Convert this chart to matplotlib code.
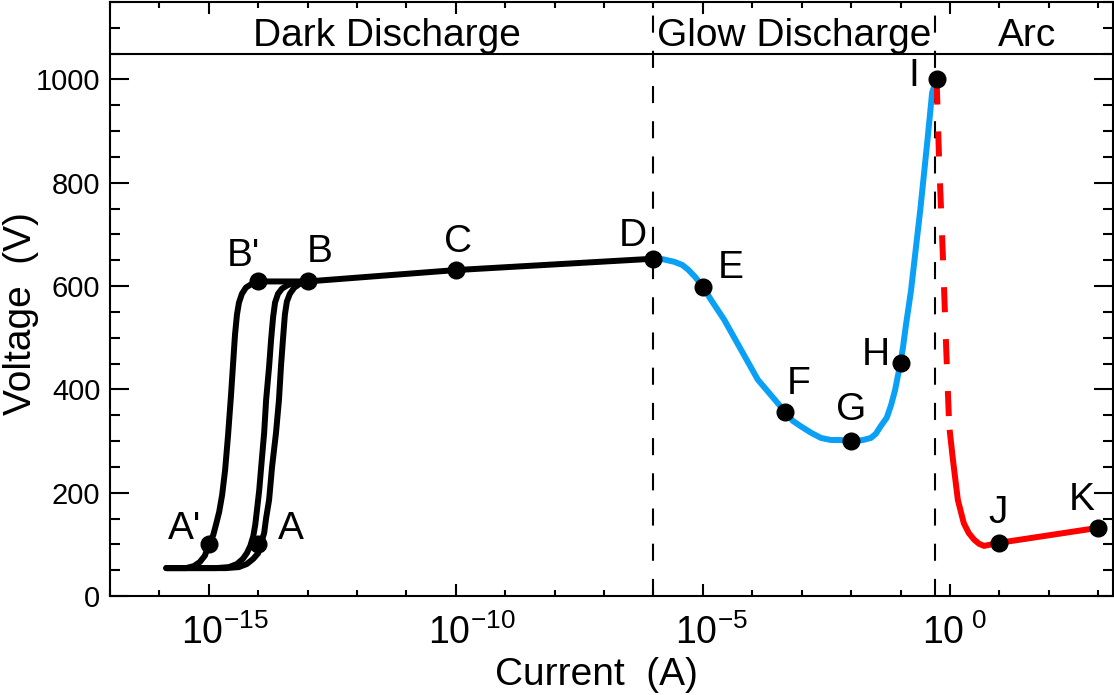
import numpy as np
import matplotlib.pyplot as plt
from matplotlib.ticker import FixedLocator, MultipleLocator, NullFormatter
from matplotlib.transforms import ScaledTranslation

plt.rcParams['font.family'] = ['Liberation Sans', 'DejaVu Sans']
plt.rcParams['mathtext.fontset'] = 'custom'
plt.rcParams['mathtext.rm'] = 'Liberation Sans'
plt.rcParams['mathtext.it'] = 'Liberation Sans'

# dark discharge: three onset curves (log10 current, voltage)
dark1_logi = [-15.86, -15.46, -15.30, -15.18, -15.08, -15.0, -14.91, -14.85, -14.79,
              -14.73, -14.67, -14.61, -14.55, -14.51, -14.47, -14.43, -14.39, -14.33,
              -14.25, -14.12, -14.0]
dark1_v = [54, 54, 58, 66, 78, 100, 118, 140, 163, 196, 244, 312, 390, 448, 506, 545,
           568, 585, 597, 605, 609]
dark2_logi = [-15.86, -14.85, -14.59, -14.43, -14.31, -14.23, -14.16, -14.10, -14.06,
              -14.02, -13.98, -13.94, -13.88, -13.84, -13.78, -13.74, -13.70, -13.66,
              -13.60, -13.52, -13.42, -13.30]
dark2_v = [54, 54, 56, 62, 72, 83, 97, 116, 138, 171, 205, 250, 316, 380, 444, 496,
           539, 568, 585, 595, 601, 606]
dark3_logi = [-15.86, -14.65, -14.39, -14.23, -14.10, -14.0, -13.96, -13.92, -13.88,
              -13.84, -13.78, -13.72, -13.64, -13.58, -13.54, -13.50, -13.46, -13.42,
              -13.36, -13.27, -13.15, -13.0]
dark3_v = [54, 54, 56, 62, 72, 83, 97, 109, 122, 151, 186, 250, 316, 380, 444, 496,
           545, 570, 585, 597, 605, 609]
# plateau B' -> B -> C -> D
plateau_logi = [-14.0, -13.0, -10.0, -6.0]
plateau_v = [609, 609, 631, 653]

# glow discharge (D -> I)
glow_logi = [-6.0, -5.81, -5.58, -5.42, -5.30, -5.16, -5.0, -4.84, -4.57, -4.23, -3.89,
             -3.34, -3.18, -3.01, -2.81, -2.61, -2.41, -2.21, -2.0, -1.76, -1.60, -1.50,
             -1.40, -1.28, -1.19, -1.11, -1.05, -1.0, -0.95, -0.89, -0.79, -0.70, -0.60,
             -0.46, -0.36, -0.27]
glow_v = [653, 652, 647, 641, 632, 618, 599, 574, 535, 477, 419,
          357, 339, 328, 316, 306, 302, 302, 300, 302, 306, 314,
          329, 345, 370, 399, 428, 452, 482, 525, 590, 665, 748,
          878, 975, 1000]

# arc: dashed transition from I, then solid to J and K
arc_dash_logi = [-0.27, -0.22, -0.14, -0.08, -0.02, 0.0]
arc_dash_v = [1000, 845, 651, 490, 341, 316]
arc_logi = [0.0, 0.06, 0.16, 0.28, 0.38, 0.49, 0.59, 0.69, 1.0, 3.0]
arc_v = [316, 264, 186, 141, 122, 109, 101, 97, 103, 132]

# labelled points
point_names = ["A'", "A", "B'", "B", "C", "D", "E", "F", "G", "H", "I", "J", "K"]
point_logi = [-15.0, -14.0, -14.0, -13.0, -10.0, -6.0, -5.0, -3.34, -2.0, -1.0, -0.27, 1.0, 3.0]
point_v = [100, 100, 609, 609, 631, 653, 599, 357, 300, 452, 1000, 103, 132]
label_offsets = [(-24, 15), (33, 15), (-15, 25), (12, 29), (2, 28), (-21, 23), (28, 19),
                 (14, 28), (0, 31), (-25, 8), (-23, 3), (-1, 30), (-16, 28)]

# regions
region_names = ["Dark Discharge", "Glow Discharge", "Arc"]
region_centers = [-11.39, -3.15, 1.56]
boundary_logi = [-6.0, -0.3]

xtick_labels = [r'$10^{-15}$', r'$10^{-10}$', r'$10^{-5}$', r'$10^{\ 0}$']

blue = '#0aa0f5'
red = '#ff0000'
lw = 4.3

fig = plt.figure(figsize=(11.14, 6.95), dpi=100)
ax = fig.add_axes([110 / 1114, 99 / 695, 1003 / 1114, 594 / 695])

for lx, ly in [(dark1_logi, dark1_v), (dark2_logi, dark2_v), (dark3_logi, dark3_v),
               (plateau_logi, plateau_v)]:
    ax.plot(10.0 ** np.array(lx), ly, color='black', lw=lw, solid_capstyle='round',
            solid_joinstyle='round')
ax.plot(10.0 ** np.array(glow_logi), glow_v, color=blue, lw=lw, solid_joinstyle='round')
ax.plot(10.0 ** np.array(arc_dash_logi), arc_dash_v, color=red, lw=lw,
        dashes=(4.2, 4.5))
ax.plot(10.0 ** np.array(arc_logi), arc_v, color=red, lw=lw, solid_joinstyle='round')

for b in boundary_logi:
    ax.axvline(10.0 ** b, color='black', lw=1.5, dashes=(8.2, 8.7), zorder=1)

ax.axhline(1050, color='black', lw=1.5)
for name, c in zip(region_names, region_centers):
    ax.text(10.0 ** c, 1064, name, ha='center', va='baseline', fontsize=28)

ax.plot(10.0 ** np.array(point_logi), point_v, 'o', color='black', ms=12, zorder=5)
for name, lx, v, off in zip(point_names, point_logi, point_v, label_offsets):
    ax.annotate(name, (10.0 ** lx, v), xytext=off, textcoords='offset pixels',
                ha='center', va='center', fontsize=28)

ax.set_xscale('log')
ax.set_xlim(10.0 ** -17, 10.0 ** 3.3)
ax.set_ylim(0, 1150)

ax.xaxis.set_major_locator(FixedLocator([1e-15, 1e-10, 1e-5, 1e0]))
ax.xaxis.set_minor_locator(FixedLocator(10.0 ** np.arange(-17, 4)))
ax.xaxis.set_minor_formatter(NullFormatter())
ax.set_xticklabels(xtick_labels)
ax.yaxis.set_major_locator(FixedLocator([0, 200, 400, 600, 800, 1000]))
ax.yaxis.set_minor_locator(MultipleLocator(50))

ax.tick_params(axis='both', which='both', direction='in', top=True, right=True, width=1.5)
ax.tick_params(axis='x', which='major', length=8.6, labelsize=27, pad=13)
ax.tick_params(axis='x', which='minor', length=4.3)
ax.tick_params(axis='y', which='major', length=14, labelsize=21, pad=7)
ax.tick_params(axis='y', which='minor', length=7)
for s in ax.spines.values():
    s.set_linewidth(1.5)

# keep the "10" centred on the tick, exponent hanging to the right
shift = ScaledTranslation(-0.28, 0, fig.dpi_scale_trans)
for tick in ax.xaxis.get_major_ticks():
    tick.label1.set_horizontalalignment('left')
    tick.label1.set_transform(tick.label1.get_transform() + shift)

ax.set_xlabel('Current  (A)', fontsize=28)
ax.xaxis.set_label_coords(0.485, -0.103)
ax.set_ylabel('Voltage  (V)', fontsize=28)
ax.yaxis.set_label_coords(-0.071, 0.475)

fig.savefig('out.png', dpi=100)
